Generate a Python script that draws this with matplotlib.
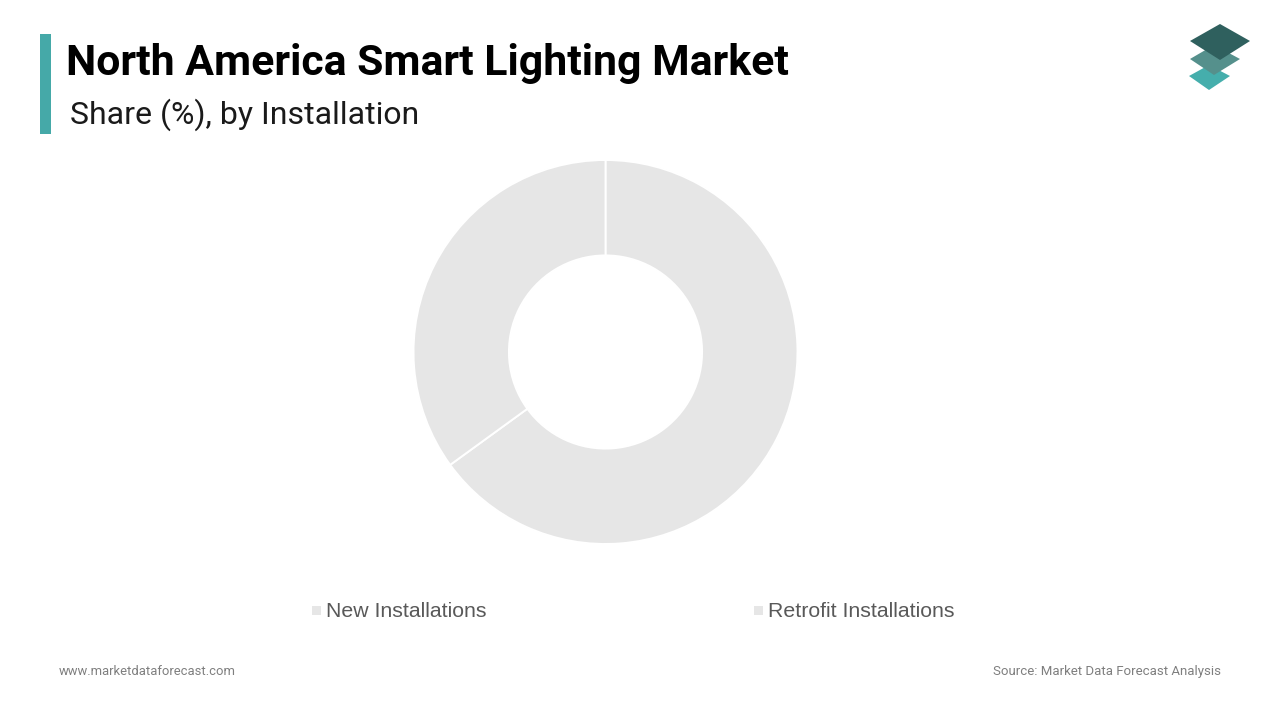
import matplotlib
matplotlib.use("Agg")
import matplotlib.pyplot as plt
from matplotlib.patches import Polygon, Rectangle

# values (all slices share one grey)
categories = ["New Installations", "Retrofit Installations"]
shares = [65, 35]
slice_colors = ["#e6e6e6", "#e6e6e6"]

title = "North America Smart Lighting Market"
subtitle = "Share (%), by Installation"
site = "www.marketdataforecast.com"
source = "Source: Market Data Forecast Analysis"

W, H = 1280, 720

fig = plt.figure(figsize=(W / 100, H / 100), dpi=100, facecolor="white")

# overlay in pixel coords for the header, logo, legend and footer
bg = fig.add_axes([0, 0, 1, 1])
bg.set_xlim(0, W)
bg.set_ylim(H, 0)
bg.axis("off")

# accent bar
bg.add_patch(Rectangle((40, 34), 11, 100, color="#45a9a8", lw=0))

bg.text(66, 63, title, family="Roboto", weight="bold", fontsize=30.75, color="#000000", va="center", ha="left")
bg.text(70, 115, subtitle, family="Roboto", fontsize=23.0, color="#1a1a1a", va="center", ha="left")

# logo, three stacked diamonds
bg.add_patch(Polygon([(1189, 76), (1209, 65), (1230, 76), (1209, 90)], color="#45aeac", lw=0))
bg.add_patch(Polygon([(1190, 59), (1214, 45), (1240, 59), (1214, 75)], color="#55908c", lw=0))
bg.add_patch(Polygon([(1190, 41), (1220, 24), (1250, 41), (1220, 60)], color="#2f605e", lw=0))

# legend
legend_x = [312, 754]
for x, name, col in zip(legend_x, categories, slice_colors):
    bg.add_patch(Rectangle((x, 606), 9, 9, color=col, lw=0))
    bg.text(x + 14, 617, name, family="Liberation Sans", fontsize=15.35, color="#595959", va="baseline", ha="left")

# footer
bg.text(59, 675, site, family="Roboto", fontsize=9.4, color="#7f7f7f", va="baseline", ha="left")
bg.text(1221, 675, source, family="Roboto", fontsize=9.5, color="#7f7f7f", va="baseline", ha="right")

# donut
R = 192
cx, cy = 605.5, 352
ax = fig.add_axes([(cx - R) / W, (H - cy - R) / H, 2 * R / W, 2 * R / H])
ax.pie(shares, colors=slice_colors, startangle=90, counterclock=False, radius=1,
       wedgeprops=dict(width=0.497, edgecolor="white", linewidth=1.4))
ax.set_xlim(-1, 1)
ax.set_ylim(-1, 1)

fig.savefig("out.png", dpi=100)
